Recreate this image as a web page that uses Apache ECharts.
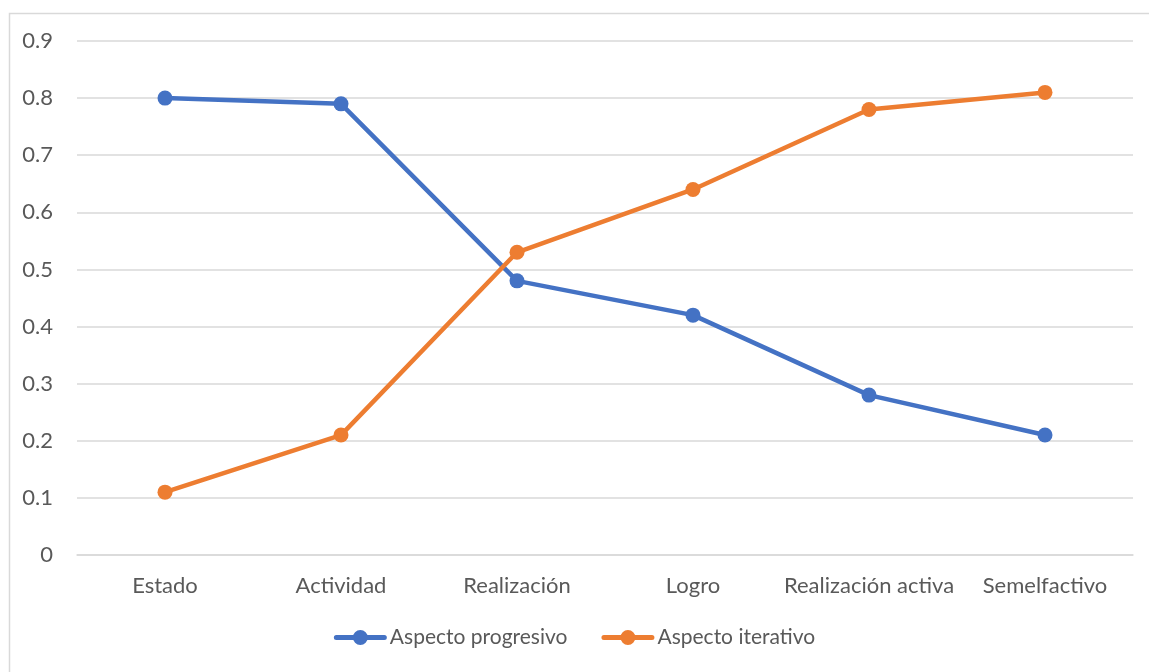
<!DOCTYPE html>
<html>
<head>
<meta charset="utf-8">
<script src="https://cdn.jsdelivr.net/npm/echarts@6/dist/echarts.min.js"></script>
<style>
  html, body { margin: 0; padding: 0; background: #fff; }
  #chart { width: 1149px; height: 672px; }
</style>
</head>
<body>
<div id="chart"></div>
<script>
// Aspect categories and the share for each aspect type
const categories = ['Estado', 'Actividad', 'Realización', 'Logro', 'Realización activa', 'Semelfactivo'];
const progresivo = [0.80, 0.79, 0.48, 0.42, 0.28, 0.21];
const iterativo = [0.11, 0.21, 0.53, 0.64, 0.78, 0.81];
const seriesNames = ['Aspecto progresivo', 'Aspecto iterativo'];

const textColor = '#595959';
const gridColor = '#D9D9D9';
const fontFamily = 'Lato, "Open Sans", sans-serif';

// Legend key: a thick stroke with a round marker in the middle
const legendIcon = 'path://M2.5,5 L20,5 L20,10 L2.5,10 A2.5,2.5 0 0,1 2.5,5 Z ' +
  'M33,5 L50.5,5 A2.5,2.5 0 0,1 50.5,10 L33,10 Z ' +
  'M19,7.5 A7.5,7.5 0 1,1 34,7.5 A7.5,7.5 0 1,1 19,7.5 Z';

const chart = echarts.init(document.getElementById('chart'), null, { renderer: 'canvas' });

function lineSeries(name, data, color) {
  return {
    name: name,
    type: 'line',
    data: data,
    symbol: 'circle',
    symbolSize: 15,
    lineStyle: { width: 4.5, color: color },
    itemStyle: { color: color },
    emphasis: { disabled: true },
    animation: false
  };
}

chart.setOption({
  animation: false,
  graphic: [{
    type: 'rect',
    left: 7, top: 11,
    shape: { width: 1160, height: 680 },
    style: { fill: 'none', stroke: gridColor, lineWidth: 1.5 },
    silent: true
  }],
  grid: { left: 77, right: 16, top: 41, bottom: 117 },
  legend: {
    data: seriesNames,
    bottom: 19,
    left: 'center',
    icon: legendIcon,
    itemWidth: 53,
    itemHeight: 15,
    itemGap: 34,
    textStyle: { color: textColor, fontSize: 21, fontFamily: fontFamily, padding: [0, 0, 0, -2] }
  },
  xAxis: {
    type: 'category',
    data: categories,
    boundaryGap: true,
    axisLine: { show: true, lineStyle: { color: gridColor, width: 1.5 } },
    axisTick: { show: false },
    axisLabel: { interval: 0, color: textColor, fontSize: 22, fontFamily: fontFamily, margin: 20 }
  },
  yAxis: {
    type: 'value',
    min: 0,
    max: 0.9,
    interval: 0.1,
    axisLine: { show: false },
    axisTick: { show: false },
    splitLine: { lineStyle: { color: gridColor, width: 1.5 } },
    axisLabel: {
      color: textColor, fontSize: 22, fontFamily: fontFamily, margin: 24,
      formatter: v => (Math.round(v * 10) / 10).toString()
    }
  },
  series: [
    lineSeries(seriesNames[0], progresivo, '#4472C4'),
    lineSeries(seriesNames[1], iterativo, '#ED7D31')
  ]
});
</script>
</body>
</html>
